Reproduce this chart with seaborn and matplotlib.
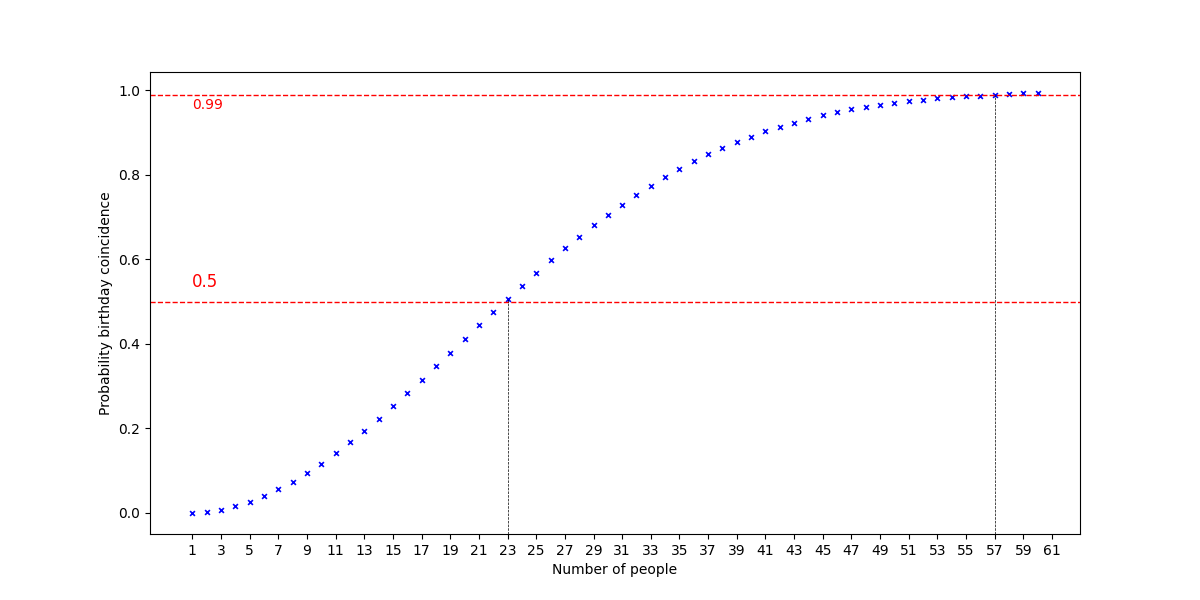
import matplotlib
matplotlib.use('Agg')
import matplotlib.pyplot as plt
import seaborn as sns

# Number of people in the room
people = list(range(1, 61))

# Probability that at least two people share a birthday
prob_coincidence = [
    0.000, 0.003, 0.008, 0.016, 0.027, 0.040, 0.056, 0.074, 0.095, 0.117,
    0.141, 0.167, 0.194, 0.223, 0.253, 0.284, 0.315, 0.347, 0.379, 0.411,
    0.444, 0.476, 0.507, 0.538, 0.569, 0.598, 0.627, 0.654, 0.681, 0.706,
    0.730, 0.753, 0.775, 0.795, 0.814, 0.832, 0.849, 0.864, 0.878, 0.891,
    0.903, 0.914, 0.924, 0.933, 0.941, 0.948, 0.955, 0.961, 0.966, 0.970,
    0.974, 0.978, 0.981, 0.984, 0.986, 0.988, 0.990, 0.992, 0.993, 0.994,
]

thresholds = [0.5, 0.99]
threshold_people = [23, 57]
threshold_labels = ['0.5', '0.99']
xticks = list(range(1, 62, 2))

sns.set_style('ticks', {'text.color': 'black', 'axes.labelcolor': 'black',
                        'xtick.color': 'black', 'ytick.color': 'black',
                        'axes.edgecolor': 'black'})
plt.rcParams['font.family'] = ['DejaVu Sans']

fig, ax = plt.subplots(1, 1, figsize=(12, 6), dpi=100)
sns.scatterplot(x=people, y=prob_coincidence, marker='x', color='blue',
                s=12, linewidth=1.2, ax=ax)

ax.set_xticks(xticks)
ax.set_xlabel('Number of people')
ax.set_ylabel('Probability birthday coincidence')

ymin, ymax = ax.get_ylim()
for thr, n_ppl, lab, fs, dy in zip(thresholds, threshold_people,
                                   threshold_labels, [12, 10], [0.025, -0.025]):
    ax.axhline(thr, color='red', linestyle='--', linewidth=1)
    ax.vlines(n_ppl, ymin, prob_coincidence[n_ppl - 1], color='black',
              linestyle='--', linewidth=0.5)
    ax.text(1, thr + dy, lab, color='red', fontsize=fs,
            va='bottom' if dy > 0 else 'center')
ax.set_ylim(ymin, ymax)

for side in ['top', 'right']:
    ax.spines[side].set_visible(True)

plt.savefig('out.png', dpi=100)
